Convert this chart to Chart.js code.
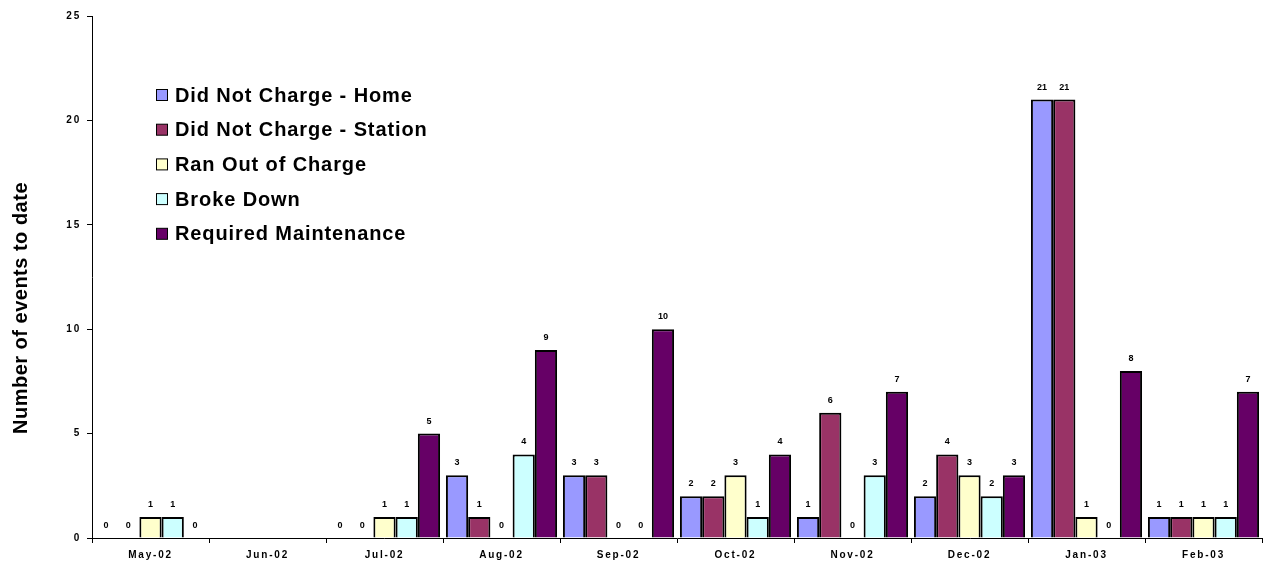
<!DOCTYPE html>
<html lang="en">
<head>
  <meta charset="UTF-8" />
  <title>Number of events to date</title>
  <script src="https://cdn.jsdelivr.net/npm/chart.js"></script>
  <style>
    html, body { margin: 0; padding: 0; background: #fff; }
    #wrap { width: 1264px; height: 566px; }
  </style>
</head>
<body>
  <div id="wrap"><canvas id="eventsChart" width="1264" height="566"></canvas></div>

  <script>
    // categories (months)
    const months = ['May-02', 'Jun-02', 'Jul-02', 'Aug-02', 'Sep-02', 'Oct-02', 'Nov-02', 'Dec-02', 'Jan-03', 'Feb-03'];

    // series values (null = no data for that month)
    const notChargeHome    = [0, null, 0, 3, 3, 2, 1, 2, 21, 1];
    const notChargeStation = [0, null, 0, 1, 3, 2, 6, 4, 21, 1];
    const ranOutOfCharge   = [1, null, 1, 0, 0, 3, 0, 3, 1, 1];
    const brokeDown        = [1, null, 1, 4, 0, 1, 3, 2, 0, 1];
    const maintenance      = [0, null, 5, 9, 10, 4, 7, 3, 8, 7];

    const yTicks = [0, 5, 10, 15, 20, 25];

    const seriesNames = ['Did Not Charge - Home', 'Did Not Charge - Station', 'Ran Out of Charge', 'Broke Down', 'Required Maintenance'];
    const seriesColors = ['#9999FF', '#993366', '#FFFFCC', '#CCFFFF', '#660066'];
    const seriesData = [notChargeHome, notChargeStation, ranOutOfCharge, brokeDown, maintenance];

    const FONT = '"Liberation Sans", Arial, sans-serif';

    // value labels above each bar + own legend and axis title
    const extras = {
      id: 'extras',
      beforeDraw(chart) {
        chart.ctx.letterSpacing = '1.8px';   // spaced tick labels like the original
      },
      beforeDatasetsDraw(chart) {
        chart.ctx.letterSpacing = '0px';
      },
      afterDatasetsDraw(chart) {
        const ctx = chart.ctx;
        ctx.save();
        ctx.letterSpacing = '0px';
        ctx.font = 'bold 9px ' + FONT;
        ctx.fillStyle = '#000';
        ctx.textAlign = 'center';
        ctx.textBaseline = 'alphabetic';
        chart.data.datasets.forEach((ds, i) => {
          const meta = chart.getDatasetMeta(i);
          meta.data.forEach((bar, j) => {
            const v = ds.data[j];
            if (v === null || v === undefined) return;
            ctx.fillText(String(v), bar.x, bar.y - 10);
          });
        });
        ctx.restore();
      },
      afterDraw(chart) {
        const ctx = chart.ctx;
        ctx.save();
        // legend
        ctx.font = 'bold 20px ' + FONT;
        ctx.letterSpacing = '0.9px';
        ctx.textBaseline = 'middle';
        ctx.textAlign = 'left';
        chart.data.datasets.forEach((ds, i) => {
          const cy = 95 + i * 34.7;
          ctx.fillStyle = ds.backgroundColor;
          ctx.fillRect(156.5, cy - 5.5, 11, 11);
          ctx.strokeStyle = '#000';
          ctx.lineWidth = 1;
          ctx.strokeRect(156.5, cy - 5.5, 11, 11);
          ctx.fillStyle = '#000';
          ctx.fillText(ds.label, 175, cy + 1);
        });
        // y axis title
        ctx.translate(27, 308);
        ctx.rotate(-Math.PI / 2);
        ctx.font = 'bold 20px ' + FONT;
        ctx.letterSpacing = '0.5px';
        ctx.textAlign = 'center';
        ctx.textBaseline = 'alphabetic';
        ctx.fillStyle = '#000';
        ctx.fillText('Number of events to date', 0, 0);
        ctx.restore();
      }
    };

    new Chart(document.getElementById('eventsChart'), {
      type: 'bar',
      data: {
        labels: months,
        datasets: seriesData.map((d, i) => ({
          label: seriesNames[i],
          data: d,
          backgroundColor: seriesColors[i],
          borderColor: '#000',
          borderWidth: 2,
          categoryPercentage: 0.95,
          barPercentage: 1.0
        }))
      },
      options: {
        responsive: false,
        animation: false,
        layout: { padding: { top: 16, right: 2, left: 0, bottom: 0 } },
        plugins: {
          legend: { display: false },
          tooltip: { enabled: false }
        },
        scales: {
          x: {
            afterFit: s => { s.height = 28; },
            grid: { offset: true, drawOnChartArea: false, color: '#000', tickLength: 5 },
            border: { color: '#000', width: 1 },
            ticks: {
              color: '#000',
              padding: 6,
              maxRotation: 0,
              font: { family: FONT, size: 10, weight: 'bold' }
            }
          },
          y: {
            min: 0,
            max: 25,
            afterFit: s => { s.width = 92; },
            afterBuildTicks: s => { s.ticks = yTicks.map(v => ({ value: v })); },
            grid: { drawOnChartArea: false, color: '#000', tickLength: 5 },
            border: { color: '#000', width: 1 },
            ticks: {
              color: '#000',
              padding: 6,
              font: { family: FONT, size: 10, weight: 'bold' }
            }
          }
        }
      },
      plugins: [extras]
    });
  </script>
</body>
</html>
